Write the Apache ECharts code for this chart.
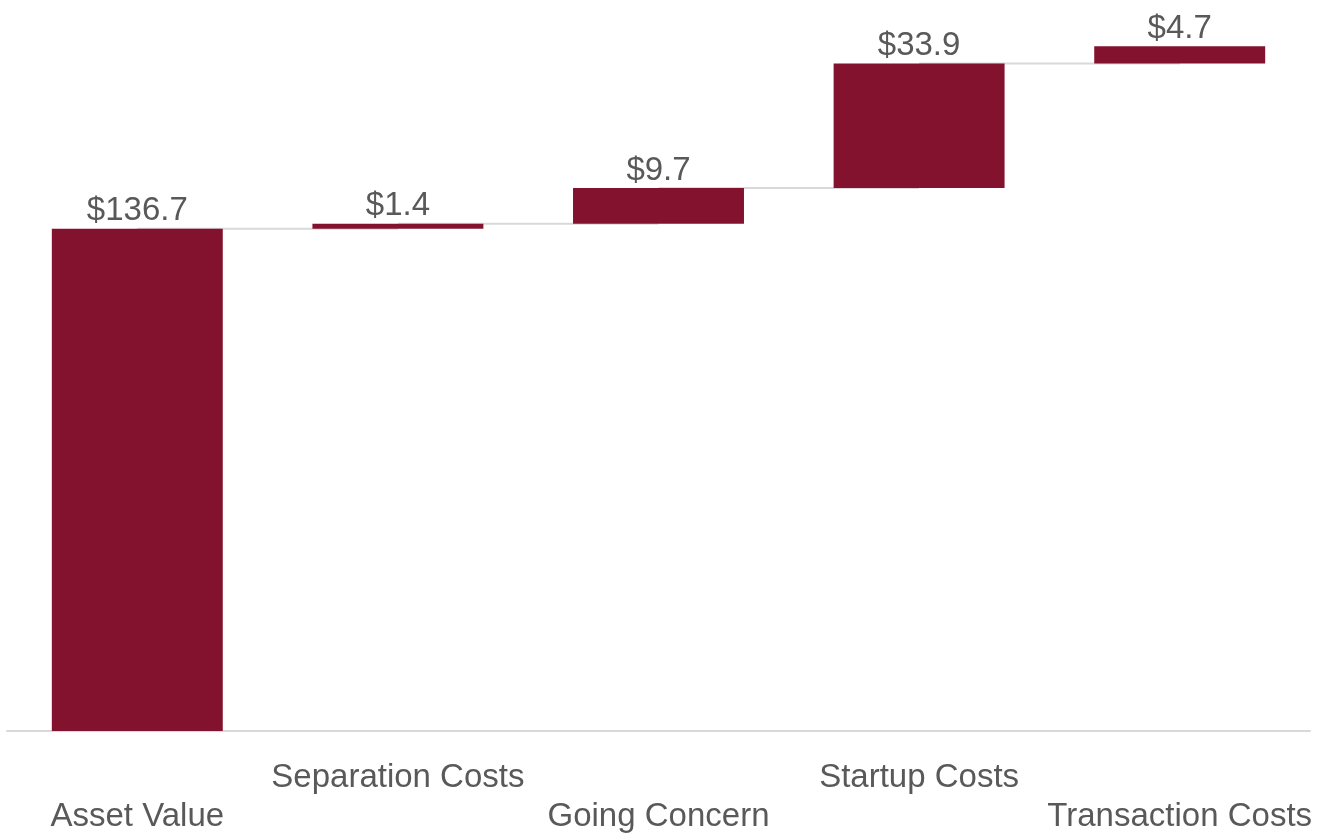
<!DOCTYPE html>
<html>
<head>
<meta charset="utf-8">
<script src="https://cdn.jsdelivr.net/npm/echarts@6/dist/echarts.min.js"></script>
<style>
  html, body { margin: 0; padding: 0; background: #ffffff; }
  #chart { width: 1330px; height: 834px; }
</style>
</head>
<body>
<div id="chart"></div>
<script>
// Waterfall of value components ($)
const categories = ['Asset Value', 'Separation Costs', 'Going Concern', 'Startup Costs', 'Transaction Costs'];
const amounts = [136.7, 1.4, 9.7, 33.9, 4.7];

// Invisible base for each step and the running total at each step's top
const bases = [];
const tops = [];
let running = 0;
amounts.forEach(function (v) {
  bases.push(running);
  running += v;
  tops.push(running);
});

const barColor = '#82122E';
const textColor = '#595959';
const fontFamily = 'Liberation Sans, Arial, sans-serif';

const chart = echarts.init(document.getElementById('chart'));
chart.setOption({
  animation: false,
  backgroundColor: '#ffffff',
  grid: { left: 7, right: 20, top: 33, bottom: 103, containLabel: false, outerBoundsMode: 'none' },
  xAxis: {
    type: 'category',
    data: categories,
    axisLine: { show: true, lineStyle: { color: '#d9d9d9', width: 2 } },
    axisTick: { show: false },
    axisLabel: {
      interval: 0,
      hideOverlap: false,
      margin: 27,
      color: textColor,
      fontFamily: fontFamily,
      fontSize: 33,
      lineHeight: 39,
      // alternate labels between two rows
      formatter: function (value, index) {
        return index % 2 === 0 ? '\n' + value : value;
      }
    }
  },
  yAxis: {
    type: 'value',
    min: 0,
    max: 190,
    show: false,
    splitLine: { show: false }
  },
  series: [
    {
      // connector lines between consecutive steps
      type: 'custom',
      z: 1,
      silent: true,
      data: tops.map(function (t, i) { return [i, t]; }),
      renderItem: function (params, api) {
        const i = api.value(0);
        if (i >= categories.length - 1) return null;
        const level = api.value(1);
        const p1 = api.coord([i, level]);
        const p2 = api.coord([i + 1, level]);
        return {
          type: 'line',
          shape: { x1: p1[0], y1: p1[1], x2: p2[0], y2: p2[1] },
          style: { stroke: '#d9d9d9', lineWidth: 2 }
        };
      }
    },
    {
      type: 'bar',
      stack: 'wf',
      z: 2,
      barWidth: '65.6%',
      silent: true,
      itemStyle: { color: 'transparent' },
      data: bases
    },
    {
      type: 'bar',
      stack: 'wf',
      z: 2,
      barWidth: '65.6%',
      itemStyle: { color: barColor },
      label: {
        show: true,
        position: 'top',
        distance: 1,
        color: textColor,
        fontFamily: fontFamily,
        fontSize: 33,
        formatter: function (p) { return '$' + p.value.toFixed(1); }
      },
      data: amounts
    }
  ]
});
</script>
</body>
</html>
